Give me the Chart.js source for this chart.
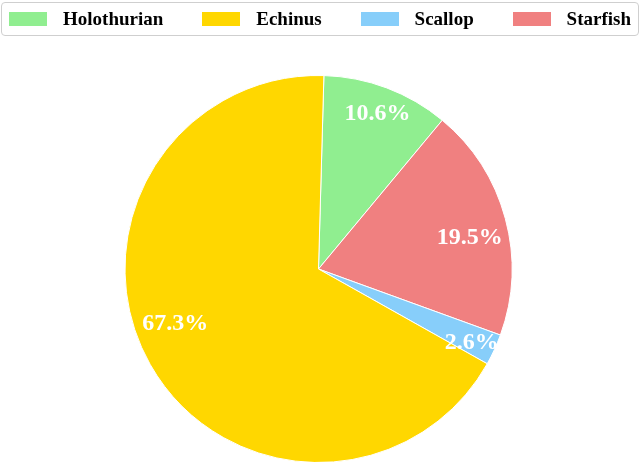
<!DOCTYPE html>
<html>
<head>
<meta charset="utf-8">
<script src="https://cdn.jsdelivr.net/npm/chart.js@4"></script>
<style>
    html, body { margin: 0; padding: 0; background: #fff; overflow: hidden; }
    #wrap { position: relative; width: 640px; height: 462px; overflow: hidden; }
    #pie { position: absolute; left: 0; top: 0; }
    #legend {
        position: absolute; left: 1px; top: 2px; width: 638px; height: 34px;
        border: 1px solid #cfcfcf; border-radius: 4px;
        display: flex; justify-content: space-between; align-items: center;
        padding: 0 7px; box-sizing: border-box;
        font: bold 19px "Liberation Serif", "Times New Roman", serif; color: #000;
    }
    #legend .item { display: flex; align-items: center; }
    #legend .swatch { width: 38px; height: 14px; margin-right: 16px; }
</style>
</head>
<body>
<div id="wrap">
    <canvas id="pie" width="640" height="464"></canvas>
    <div id="legend"></div>
</div>
<script>
// legend order (as in the figure)
const categories = ['Holothurian', 'Echinus', 'Scallop', 'Starfish'];
const shares = [10.6, 67.3, 2.6, 19.5];
const colors = ['#90EE90', '#FFD700', '#87CEFA', '#F08080'];

// slices run counter-clockwise in the figure, Chart.js draws clockwise
const drawOrder = [0, 3, 2, 1];

class PieChart {
    constructor() {
        this.chart = null;
        this.init();
    }

    init() {
        this.buildLegend();
        this.initChart();
    }

    buildLegend() {
        const box = document.getElementById('legend');
        categories.forEach((name, i) => {
            const item = document.createElement('div');
            item.className = 'item';
            item.innerHTML = `<span class="swatch" style="background:${colors[i]}"></span><span>${name}</span>`;
            box.appendChild(item);
        });
    }

    initChart() {
        const ctx = document.getElementById('pie').getContext('2d');
        this.chart = new Chart(ctx, {
            type: 'pie',
            data: {
                labels: drawOrder.map(i => categories[i]),
                datasets: [{
                    data: drawOrder.map(i => shares[i]),
                    backgroundColor: drawOrder.map(i => colors[i]),
                    borderColor: '#ffffff',
                    borderWidth: 1,
                    hoverOffset: 0
                }]
            },
            options: {
                responsive: false,
                animation: false,
                rotation: 1.6,
                layout: { padding: { top: 75, bottom: 1, left: 0, right: 3 } },
                plugins: {
                    legend: { display: false },
                    tooltip: { enabled: false },
                    pctLabels: {
                        // radial fraction and angle nudge (deg) per drawn slice
                        fraction: [0.865, 0.80, 0.875, 0.79],
                        nudge: [0, 3, 0.5, 9]
                    }
                }
            },
            plugins: [this.labelPlugin()]
        });
    }

    labelPlugin() {
        return {
            id: 'pctLabels',
            afterDatasetsDraw(chart, args, opts) {
                const c = chart.ctx;
                const meta = chart.getDatasetMeta(0);
                const values = chart.data.datasets[0].data;
                c.save();
                c.fillStyle = '#ffffff';
                c.font = 'bold 24px "Liberation Serif", "Times New Roman", serif';
                c.textAlign = 'center';
                c.textBaseline = 'middle';
                meta.data.forEach((arc, i) => {
                    const p = arc.getProps(['x', 'y', 'startAngle', 'endAngle', 'outerRadius'], true);
                    const mid = (p.startAngle + p.endAngle) / 2 + opts.nudge[i] * Math.PI / 180;
                    const r = p.outerRadius * opts.fraction[i];
                    c.fillText(values[i].toFixed(1) + '%', p.x + Math.cos(mid) * r, p.y + Math.sin(mid) * r + 1.5);
                });
                c.restore();
            }
        };
    }
}

new PieChart();
</script>
</body>
</html>
